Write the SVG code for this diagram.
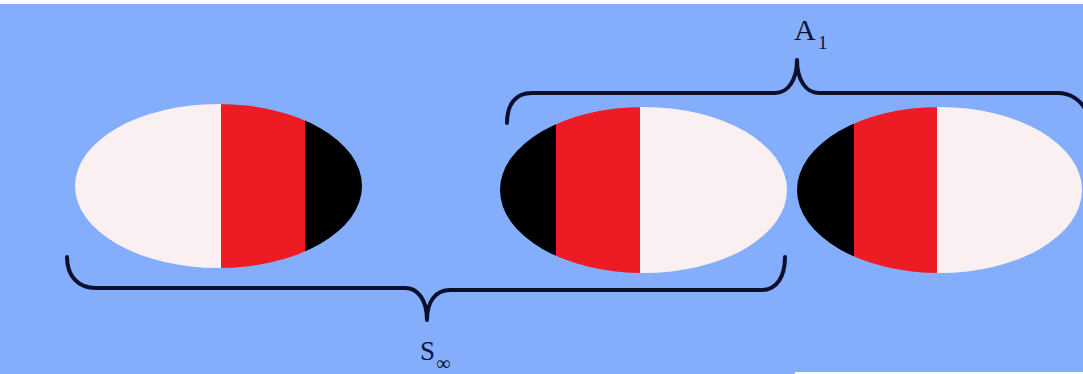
<svg xmlns="http://www.w3.org/2000/svg" width="1083" height="374" viewBox="0 0 1083 374">
<style>
.bg{fill:#84aefc}
.wh{fill:#faf0f1}
.rd{fill:#ed1c24}
.bk{fill:#000}
.brace{fill:none;stroke:#0a0f2e;stroke-width:4;stroke-linecap:round;stroke-linejoin:round}
.lbl{font-family:"Liberation Serif","Times New Roman",serif;fill:#0a1238}
</style>
<defs>
<clipPath id="c1"><ellipse cx="218.5" cy="186" rx="143.5" ry="82"/></clipPath>
<clipPath id="c2"><ellipse cx="643.5" cy="190" rx="143.5" ry="83"/></clipPath>
<clipPath id="c3"><ellipse cx="939.5" cy="190" rx="142.5" ry="83"/></clipPath>
</defs>
<rect class="bg" x="0" y="0" width="1083" height="374"/>
<rect fill="#fbfcff" x="0" y="0" width="1083" height="4"/>
<rect fill="#fbfcff" x="795" y="372" width="288" height="2"/>
<g id="ellipse1" clip-path="url(#c1)">
<rect class="wh" x="70" y="100" width="151" height="175"/>
<rect class="rd" x="221" y="100" width="84" height="175"/>
<rect class="bk" x="305" y="100" width="62" height="175"/>
</g>
<g id="ellipse2" clip-path="url(#c2)">
<rect class="bk" x="495" y="100" width="61" height="180"/>
<rect class="rd" x="556" y="100" width="84" height="180"/>
<rect class="wh" x="640" y="100" width="152" height="180"/>
</g>
<g id="ellipse3" clip-path="url(#c3)">
<rect class="bk" x="792" y="100" width="62" height="180"/>
<rect class="rd" x="854" y="100" width="83" height="180"/>
<rect class="wh" x="937" y="100" width="150" height="180"/>
</g>
<g id="connectors">
<path class="brace" d="M507,123 C507,105 515,93 532,93 L775,93 C788,93 797,80 797,60 C797,80 806,93 819,93 L1058,93 C1070,93 1080,100 1086,110"/>
<path class="brace" d="M67,257 C67,276 78,288 96,288 L405,288 C418,288 427,300 427,320 C427,301 436,290 450,290 L762,290 C777,290 785,276 785,257"/>
</g>
<g id="labelA1">
<text class="lbl" x="794" y="40" font-size="30">A</text>
<text class="lbl" x="818" y="49" font-size="19">1</text>
</g>
<g id="labelS">
<text class="lbl" x="420" y="360" font-size="27">S</text>
<text class="lbl" x="436" y="370" font-size="20">∞</text>
</g>
</svg>
